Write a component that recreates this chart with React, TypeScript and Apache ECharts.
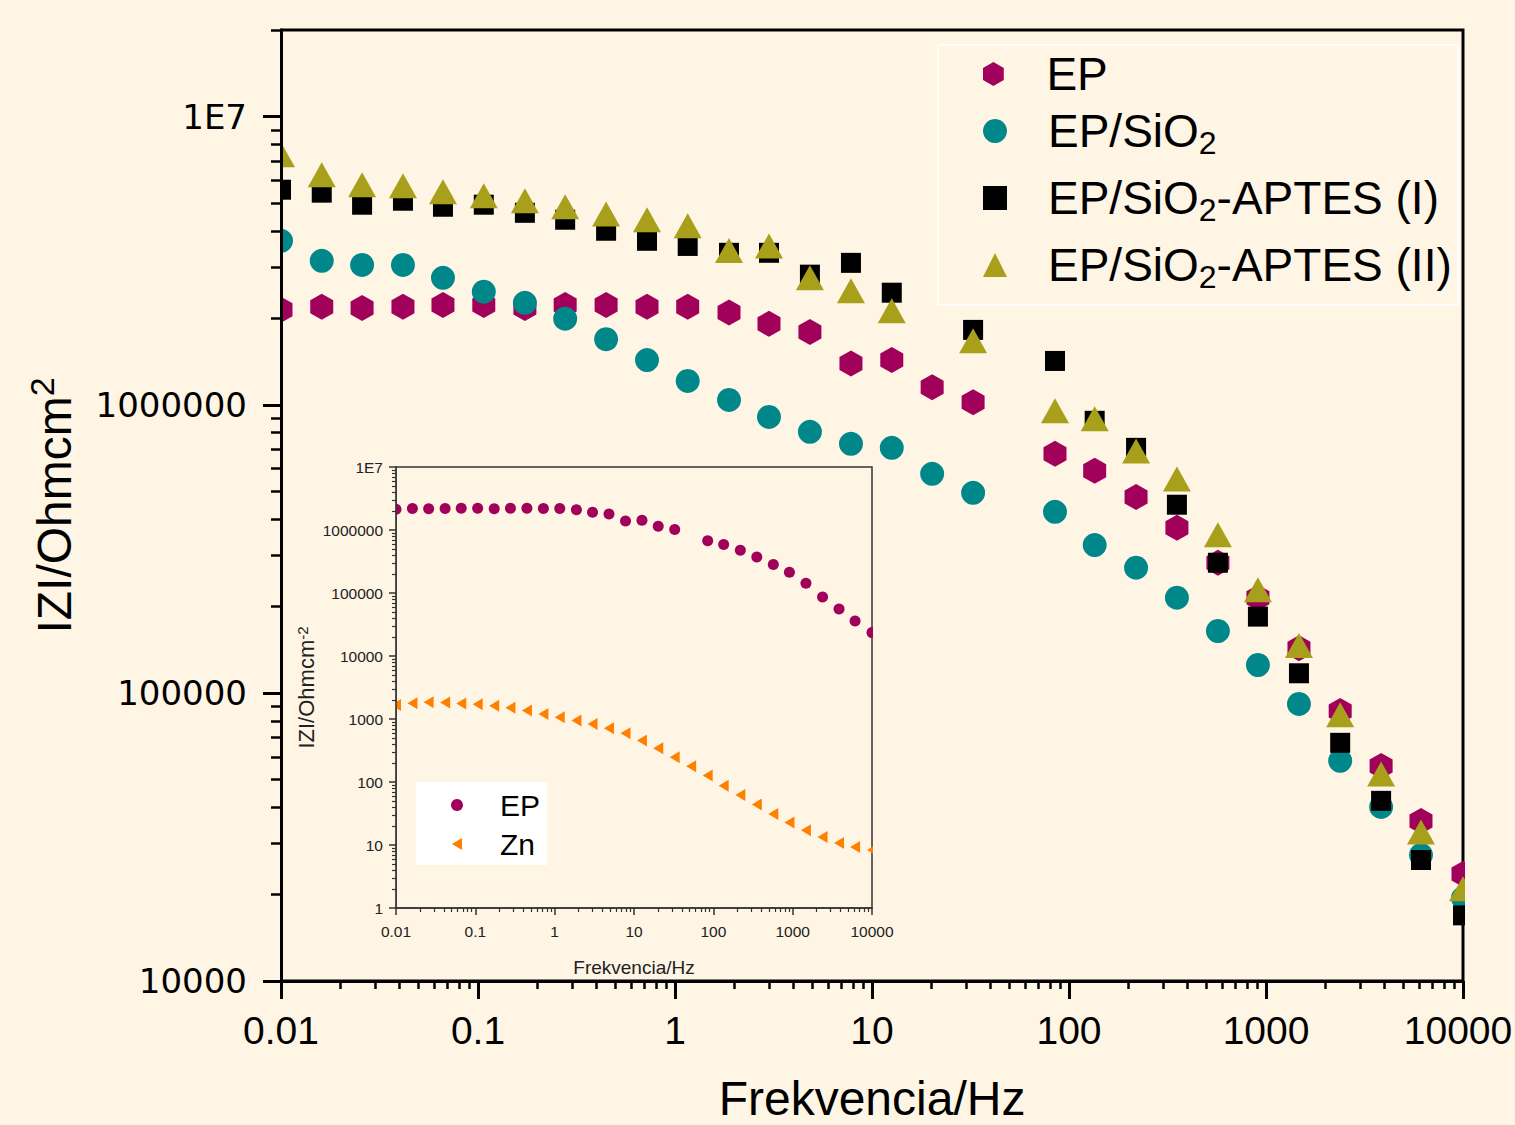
import React, { useEffect, useRef } from 'react';
import * as echarts from 'echarts';

// Frequencies (Hz)
const FREQ = [0.01, 0.0161, 0.0258, 0.0416, 0.0664, 0.107, 0.173, 0.277, 0.447, 0.721, 1.16, 1.88, 3.0, 4.84, 7.82, 12.6, 20.2, 32.6, 52.5, 84.9, 135, 219, 353, 570, 910, 1470, 2380, 3840, 6120, 10000];

// |Z| values (Ohm cm2)
const EP = [2.14e6, 2.19e6, 2.17e6, 2.19e6, 2.22e6, 2.22e6, 2.17e6, 2.22e6, 2.22e6, 2.19e6, 2.19e6, 2.09e6, 1.91e6, 1.79e6, 1.39e6, 1.43e6, 1.15e6, 1.02e6, null, 6.76e5, 5.9e5, 4.79e5, 3.74e5, 2.83e5, 2.14e5, 1.43e5, 8.66e4, 5.58e4, 3.59e4, 2.35e4];
const EP_SIO2 = [3.71e6, 3.16e6, 3.06e6, 3.06e6, 2.76e6, 2.47e6, 2.26e6, 1.99e6, 1.69e6, 1.43e6, 1.21e6, 1.04e6, 9.08e5, 8.06e5, 7.32e5, 7.09e5, 5.76e5, 4.95e5, null, 4.25e5, 3.26e5, 2.72e5, 2.14e5, 1.64e5, 1.25e5, 9.16e4, 5.81e4, 4.02e4, 2.74e4, 1.94e4];
const APTES_I = [5.58e6, 5.45e6, 4.95e6, 5.11e6, 4.87e6, 4.95e6, 4.64e6, 4.39e6, 4.02e6, 3.71e6, 3.56e6, 3.37e6, 3.37e6, 2.83e6, 3.11e6, 2.45e6, null, 1.82e6, null, 1.42e6, 8.8e5, 7.09e5, 4.5e5, 2.83e5, 1.84e5, 1.17e5, 6.71e4, 4.22e4, 2.63e4, 1.69e4];
const APTES_II = [7.38e6, 6.29e6, 5.81e6, 5.76e6, 5.49e6, 5.32e6, 5.11e6, 4.87e6, 4.6e6, 4.39e6, 4.18e6, 3.43e6, 3.56e6, 2.76e6, 2.49e6, 2.12e6, null, 1.67e6, null, 9.53e5, 8.94e5, 6.92e5, 5.53e5, 3.54e5, 2.28e5, 1.46e5, 8.39e4, 5.23e4, 3.29e4, 2.09e4];
const ZN = [1671, 1778, 1846, 1824, 1758, 1714, 1629, 1510, 1365, 1205, 1062, 948, 836, 710, 595, 457, 343, 247, 178, 127, 87, 62, 44, 31, 22.7, 17.2, 13.4, 10.8, 9.3, 8.3];

// Tick labels
const X_TICKS = [0.01, 0.1, 1, 10, 100, 1000, 10000];
const Y_TICKS_MAIN = [1e4, 1e5, 1e6, 1e7];
const Y_TICKS_INSET = [1, 10, 100, 1000, 10000, 100000, 1000000, 1e7];
const MINOR_STEPS = [2, 3, 4, 5, 6, 7, 8, 9];

const NAMES = ['EP', 'EP/SiO2', 'EP/SiO2-APTES (I)', 'EP/SiO2-APTES (II)'];
// vertical position (legend top) of each main legend row
const LEGEND_TOPS = [51, 108, 175, 242];

const BG = '#fef5e5';
const C_EP = '#a1005b';
const C_TEAL = '#00878a';
const C_BLACK = '#000000';
const C_OLIVE = '#a8a01a';
const C_ZN = '#ff8000';

const HEX = 'path://M50,0 L93.3,25 L93.3,75 L50,100 L6.7,75 L6.7,25 Z';
const LEFT_TRI = 'path://M10,0 L10,12 L0,6 Z';
const SANS = "'Liberation Sans', Arial, sans-serif";
const DEJAVU = "'DejaVu Sans', sans-serif";

function minors(decades: number[], max: number) {
  const out: number[] = [];
  decades.forEach((d) => MINOR_STEPS.forEach((m) => {
    const v = Number((m * d).toPrecision(6));
    if (v <= max * 1.0000001) out.push(v);
  }));
  return out;
}

function pairs(ys: (number | null)[]) {
  return FREQ.map((f, i) => [f, ys[i]]).filter((p) => p[1] != null);
}

const fmt = (v: number) => (v >= 9.99e6 ? '1E7' : String(Number(v.toPrecision(6))));
const fmtMainX = (v: number) => {
  const s = fmt(v);
  return v >= 9999 ? '{r|' + s + '}' : s;
};

function legendFmt(name: string) {
  if (name === 'EP') return '{e|EP}';
  const rest = name.replace('EP/SiO2', '');
  return '{f|EP/SiO}{s|2}' + (rest ? '{m|' + rest + '}' : '');
}

export default function App() {
  const ref = useRef<HTMLDivElement>(null);
  useEffect(() => {
    const chart = echarts.init(ref.current!, null, { renderer: 'svg' });
    const xMinor = minors([0.01, 0.1, 1, 10, 100, 1000], 10000);
    const yMinorMain = minors([1e4, 1e5, 1e6, 1e7], 2e7);
    const yMinorInset = minors([1, 10, 100, 1000, 1e4, 1e5, 1e6], 1e7);

    const mainMajorX = {
      gridIndex: 0, type: 'log', logBase: 10, min: 0.01, max: 10000, position: 'bottom', z: 10,
      axisLine: { show: true, onZero: false, lineStyle: { color: '#000', width: 3 } },
      axisTick: { show: true, customValues: X_TICKS, length: 18, lineStyle: { color: '#000', width: 3 } },
      axisLabel: {
        customValues: X_TICKS, formatter: fmtMainX, fontSize: 39, fontFamily: SANS, color: '#000', margin: 30,
        rich: { r: { fontSize: 39, fontFamily: SANS, color: '#000', padding: [0, 10, 0, 0] } },
      },
      splitLine: { show: false },
      name: 'Frekvencia/Hz', nameLocation: 'middle', nameGap: 97,
      nameTextStyle: { fontSize: 48, fontFamily: SANS, color: '#000', lineHeight: 40 },
    };
    const mainMinorX = {
      gridIndex: 0, type: 'log', logBase: 10, min: 0.01, max: 10000, position: 'bottom', z: 10,
      axisLine: { show: false, onZero: false },
      axisTick: { show: true, customValues: xMinor, length: 8, lineStyle: { color: '#000', width: 2.5 } },
      axisLabel: { show: false }, splitLine: { show: false },
    };
    const insetMajorX = {
      gridIndex: 1, type: 'log', logBase: 10, min: 0.01, max: 10000, position: 'bottom', z: 10,
      axisLine: { show: true, onZero: false, lineStyle: { color: '#333', width: 1.5 } },
      axisTick: { show: true, customValues: X_TICKS, length: 7, lineStyle: { color: '#333', width: 1.5 } },
      axisLabel: { customValues: X_TICKS, formatter: fmt, fontSize: 15.5, fontFamily: SANS, color: '#222', margin: 15 },
      splitLine: { show: false },
      name: 'Frekvencia/Hz', nameLocation: 'middle', nameGap: 50,
      nameTextStyle: { fontSize: 19, fontFamily: SANS, color: '#222' },
    };
    const insetMinorX = {
      gridIndex: 1, type: 'log', logBase: 10, min: 0.01, max: 10000, position: 'bottom', z: 10,
      axisLine: { show: false, onZero: false },
      axisTick: { show: true, customValues: xMinor, length: 4, lineStyle: { color: '#333', width: 1.2 } },
      axisLabel: { show: false }, splitLine: { show: false },
    };

    const mainMajorY = {
      gridIndex: 0, type: 'log', logBase: 10, min: 1e4, max: 2e7, position: 'left', z: 10,
      axisLine: { show: true, onZero: false, lineStyle: { color: '#000', width: 3 } },
      axisTick: { show: true, customValues: Y_TICKS_MAIN, length: 18, lineStyle: { color: '#000', width: 3 } },
      axisLabel: { customValues: Y_TICKS_MAIN, formatter: fmt, fontSize: 34, fontFamily: DEJAVU, color: '#000', margin: 34 },
      splitLine: { show: false },
      name: 'IZI/Ohmcm{b|2}', nameLocation: 'middle', nameGap: 196,
      nameTextStyle: {
        fontSize: 48, fontFamily: SANS, color: '#000', lineHeight: 60,
        rich: { b: { fontSize: 34, fontFamily: SANS, color: '#000', lineHeight: 30, verticalAlign: 'top' } },
      },
    };
    const mainMinorY = {
      gridIndex: 0, type: 'log', logBase: 10, min: 1e4, max: 2e7, position: 'left', z: 10,
      axisLine: { show: false, onZero: false },
      axisTick: { show: true, customValues: yMinorMain, length: 10, lineStyle: { color: '#000', width: 2.5 } },
      axisLabel: { show: false }, splitLine: { show: false },
    };
    const insetMajorY = {
      gridIndex: 1, type: 'log', logBase: 10, min: 1, max: 1e7, position: 'left', z: 10,
      axisLine: { show: true, onZero: false, lineStyle: { color: '#333', width: 1.5 } },
      axisTick: { show: true, customValues: Y_TICKS_INSET, length: 7, lineStyle: { color: '#333', width: 1.5 } },
      axisLabel: { customValues: Y_TICKS_INSET, formatter: fmt, fontSize: 15.5, fontFamily: SANS, color: '#222', margin: 13 },
      splitLine: { show: false },
      name: 'IZI/Ohmcm{b|-2}', nameLocation: 'middle', nameGap: 70,
      nameTextStyle: {
        fontSize: 22, fontFamily: SANS, color: '#222', lineHeight: 24,
        rich: { b: { fontSize: 15, fontFamily: SANS, color: '#222', lineHeight: 16, verticalAlign: 'top' } },
      },
    };
    const insetMinorY = {
      gridIndex: 1, type: 'log', logBase: 10, min: 1, max: 1e7, position: 'left', z: 10,
      axisLine: { show: false, onZero: false },
      axisTick: { show: true, customValues: yMinorInset, length: 4, lineStyle: { color: '#333', width: 1.2 } },
      axisLabel: { show: false }, splitLine: { show: false },
    };

    const mainRich = {
      e: { fontSize: 46, fontFamily: SANS, color: '#000', lineHeight: 40, padding: [0, 0, 0, 36] },
      f: { fontSize: 46, fontFamily: SANS, color: '#000', lineHeight: 56, padding: [0, 0, 0, 36] },
      m: { fontSize: 46, fontFamily: SANS, color: '#000', lineHeight: 56 },
      s: { fontSize: 32, fontFamily: SANS, color: '#000', lineHeight: 24, verticalAlign: 'bottom' },
    };

    const mainLegends = NAMES.map((n, i) => ({
      data: [n], orient: 'vertical', left: 983, top: LEGEND_TOPS[i], padding: 0,
      itemWidth: 24, itemHeight: 24, selectedMode: false, z: 20,
      formatter: legendFmt, textStyle: { rich: mainRich },
    }));

    const option: any = {
      animation: false,
      backgroundColor: BG,
      grid: [
        { left: 281, top: 30, width: 1182, height: 951, show: true, borderColor: '#000', borderWidth: 3, backgroundColor: 'transparent', containLabel: false, outerBoundsMode: 'none' },
        { left: 396, top: 467, width: 476, height: 441, show: true, borderColor: '#333', borderWidth: 1.5, backgroundColor: 'transparent', containLabel: false, outerBoundsMode: 'none' },
      ],
      xAxis: [mainMajorX, mainMinorX, insetMajorX, insetMinorX],
      yAxis: [mainMajorY, mainMinorY, insetMajorY, insetMinorY],
      legend: [
        ...mainLegends,
        {
          data: [{ name: 'EP ', icon: 'circle' }, { name: 'Zn', icon: LEFT_TRI }],
          orient: 'vertical', left: 416, top: 782, padding: [8, 7, 6, 35], itemGap: 9,
          itemWidth: 12, itemHeight: 12, backgroundColor: '#ffffff', selectedMode: false, z: 20,
          formatter: (n: string) => '{f|' + n.trim() + '}',
          textStyle: { rich: { f: { fontSize: 30, fontFamily: SANS, color: '#000', lineHeight: 36, padding: [0, 0, 0, 32] } } },
        },
      ],
      graphic: [
        { type: 'rect', silent: true, z: 1, shape: { x: 938, y: 45, width: 520, height: 260 }, style: { fill: 'none', stroke: '#ffffff', lineWidth: 1.5 } },
        { type: 'rect', silent: true, z: 5, shape: { x: 235, y: 20, width: 45, height: 975 }, style: { fill: BG } },
        { type: 'rect', silent: true, z: 5, shape: { x: 1465, y: 20, width: 50, height: 975 }, style: { fill: BG } },
        { type: 'rect', silent: true, z: 5, shape: { x: 383, y: 460, width: 12.5, height: 455 }, style: { fill: BG } },
        { type: 'rect', silent: true, z: 5, shape: { x: 873, y: 460, width: 12, height: 455 }, style: { fill: BG } },
      ],
      series: [
        { type: 'scatter', name: NAMES[0], xAxisIndex: 0, yAxisIndex: 0, data: pairs(EP), symbol: HEX, symbolSize: [23, 26], symbolKeepAspect: false, itemStyle: { color: C_EP, opacity: 1 } },
        { type: 'scatter', name: NAMES[1], xAxisIndex: 0, yAxisIndex: 0, data: pairs(EP_SIO2), symbol: 'circle', symbolSize: 24, itemStyle: { color: C_TEAL, opacity: 1 } },
        { type: 'scatter', name: NAMES[2], xAxisIndex: 0, yAxisIndex: 0, data: pairs(APTES_I), symbol: 'rect', symbolSize: 20, itemStyle: { color: C_BLACK, opacity: 1 } },
        { type: 'scatter', name: NAMES[3], xAxisIndex: 0, yAxisIndex: 0, data: pairs(APTES_II), symbol: 'triangle', symbolSize: [28, 25], itemStyle: { color: C_OLIVE, opacity: 1 } },
        { type: 'scatter', name: 'EP ', xAxisIndex: 2, yAxisIndex: 2, data: pairs(EP), symbol: 'circle', symbolSize: 11, itemStyle: { color: C_EP, opacity: 1 } },
        { type: 'scatter', name: 'Zn', xAxisIndex: 2, yAxisIndex: 2, data: pairs(ZN), symbol: LEFT_TRI, symbolSize: [10, 12], symbolKeepAspect: false, itemStyle: { color: C_ZN, opacity: 1 } },
      ],
    };
    chart.setOption(option);
    return () => chart.dispose();
  }, []);
  return <div ref={ref} style={{ position: 'fixed', left: 0, top: 0, width: 1515, height: 1125, overflow: 'hidden', background: BG }} />;
}
